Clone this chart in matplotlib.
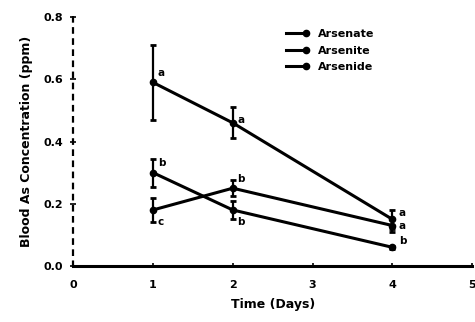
import matplotlib
matplotlib.use("Agg")
import matplotlib.pyplot as plt
from matplotlib.lines import Line2D

# values
days = [1, 2, 4]
names = ["Arsenate", "Arsenite", "Arsenide"]
top_conc = [0.59, 0.46, 0.15]
top_err = [0.12, 0.05, 0.03]
top_marks = ["a", "a", "a"]
mid_conc = [0.30, 0.18, 0.06]
mid_err = [0.045, 0.03, 0.005]
mid_marks = ["b", "b", "b"]
low_conc = [0.18, 0.25, 0.13]
low_err = [0.04, 0.025, 0.02]
low_marks = ["c", "b", "a"]

# where each letter sits relative to its point (data units)
top_off = [(0.06, 0.03), (0.06, 0.01), (0.08, 0.02)]
mid_off = [(0.06, 0.03), (0.06, -0.04), (0.08, 0.02)]
low_off = [(0.06, -0.04), (0.06, 0.03), (0.08, 0.0)]

fig = plt.figure(figsize=(4.75, 3.22), dpi=100)
ax = fig.add_axes([0.154, 0.174, 0.84, 0.773])

series = [(top_conc, top_err, top_marks, top_off),
          (mid_conc, mid_err, mid_marks, mid_off),
          (low_conc, low_err, low_marks, low_off)]
for conc, err, marks, offs in series:
    ax.errorbar(days, conc, yerr=err, color="black", lw=2.2, marker="o", ms=4.5,
                capsize=2, capthick=2, elinewidth=1.6)
    for d, c, m, o in zip(days, conc, marks, offs):
        ax.text(d + o[0], c + o[1], m, fontsize=7.5, fontweight="bold",
                ha="left", va="center")

ax.set_xlim(0, 5)
ax.set_ylim(0, 0.8)
ax.set_xticks([0, 1, 2, 3, 4, 5])
ax.set_yticks([0.0, 0.2, 0.4, 0.6, 0.8])
ax.set_yticklabels(["0.0", "0.2", "0.4", "0.6", "0.8"])
ax.tick_params(axis="both", labelsize=8, width=1.2)
ax.tick_params(axis="y", direction="inout", length=4, pad=5)
ax.tick_params(axis="x", direction="in", length=2, pad=10)
for lbl in ax.get_xticklabels() + ax.get_yticklabels():
    lbl.set_fontweight("bold")

ax.spines["top"].set_visible(False)
ax.spines["right"].set_visible(False)
ax.spines["bottom"].set_linewidth(2.2)
ax.spines["left"].set_linewidth(1.6)
ax.spines["left"].set_linestyle((0, (2, 3)))

ax.set_xlabel("Time (Days)", fontsize=9, fontweight="bold", labelpad=6)
ax.set_ylabel("Blood As Concentration (ppm)", fontsize=9, fontweight="bold", labelpad=8)

handles = [Line2D([], [], color="black", lw=2.2, marker="o", ms=4.5) for _ in names]
leg = ax.legend(handles, names, loc="upper left", bbox_to_anchor=(0.51, 0.975),
                frameon=False, fontsize=8, handlelength=2.4, handletextpad=0.8,
                labelspacing=0.6, numpoints=2, borderpad=0)
for h in leg.get_lines():
    h.set_markevery([1])
for t in leg.get_texts():
    t.set_fontweight("bold")

fig.savefig("out.png", dpi=100)
